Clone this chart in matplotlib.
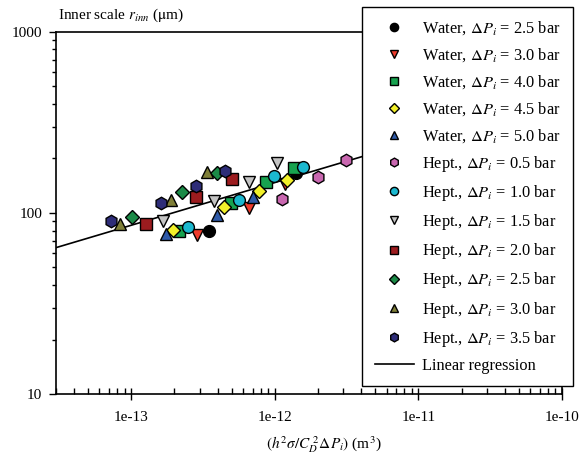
import numpy as np
import matplotlib
matplotlib.use('Agg')
import matplotlib.pyplot as plt
from matplotlib import rcParams

rcParams['font.family'] = 'serif'
rcParams['font.serif'] = ['Liberation Serif', 'DejaVu Serif']
rcParams['mathtext.fontset'] = 'stix'
rcParams['font.size'] = 11

# series: x values in m^3, r_inn in um
water25_x = [3.50e-13, 1.41e-12]
water25_y = [79.8, 165.6]
water30_x = [2.89e-13, 6.59e-13, 1.17e-12]
water30_y = [75.5, 107.0, 144.6]
water40_x = [2.16e-13, 4.97e-13, 8.71e-13, 1.36e-12]
water40_y = [79.6, 113.1, 148.3, 176.6]
water45_x = [1.96e-13, 4.41e-13, 7.82e-13, 1.21e-12]
water45_y = [80.5, 108.4, 131.5, 152.0]
water50_x = [1.75e-13, 3.93e-13, 7.01e-13]
water50_y = [76.6, 97.1, 122.2]
hept05_x = [1.12e-12, 2.00e-12, 3.11e-12]
hept05_y = [119.4, 157.4, 196.4]
hept10_x = [2.50e-13, 5.68e-13, 9.95e-13, 1.57e-12]
hept10_y = [84.0, 118.0, 159.2, 180.4]
hept15_x = [1.67e-13, 3.75e-13, 6.59e-13, 1.03e-12]
hept15_y = [90.3, 116.4, 147.4, 189.7]
hept20_x = [1.27e-13, 2.83e-13, 5.01e-13]
hept20_y = [86.6, 123.0, 154.2]
hept25_x = [1.01e-13, 2.26e-13, 3.96e-13]
hept25_y = [94.6, 130.0, 165.6]
hept30_x = [8.38e-14, 1.89e-13, 3.37e-13]
hept30_y = [86.6, 118.0, 167.9]
hept35_x = [7.21e-14, 1.61e-13, 2.83e-13, 4.51e-13]
hept35_y = [90.3, 114.0, 141.0, 170.6]

# regression r = a * x^b
reg_a = 1.0e5
reg_b = 0.236

D = r'$\mathit{\Delta P_i}$'
series = [
    ('Water, ' + D + ' = 2.5 bar', 'o', '#000000', 8.5, water25_x, water25_y),
    ('Water, ' + D + ' = 3.0 bar', 'v', '#ee3b2c', 9, water30_x, water30_y),
    ('Water, ' + D + ' = 4.0 bar', 's', '#17a24f', 8, water40_x, water40_y),
    ('Water, ' + D + ' = 4.5 bar', 'D', '#f2f02a', 7.5, water45_x, water45_y),
    ('Water, ' + D + ' = 5.0 bar', '^', '#2f5aa8', 9, water50_x, water50_y),
    ('Hept., ' + D + ' = 0.5 bar', 'h', '#c967b0', 9, hept05_x, hept05_y),
    ('Hept., ' + D + ' = 1.0 bar', 'o', '#1bb8cf', 8.5, hept10_x, hept10_y),
    ('Hept., ' + D + ' = 1.5 bar', 'v', '#c4c4c4', 9, hept15_x, hept15_y),
    ('Hept., ' + D + ' = 2.0 bar', 's', '#9c1c1f', 8, hept20_x, hept20_y),
    ('Hept., ' + D + ' = 2.5 bar', 'D', '#1b8a47', 7.5, hept25_x, hept25_y),
    ('Hept., ' + D + ' = 3.0 bar', '^', '#7f7f38', 9, hept30_x, hept30_y),
    ('Hept., ' + D + ' = 3.5 bar', 'h', '#2e2d78', 9, hept35_x, hept35_y),
]

fig = plt.figure(figsize=(5.8, 4.63), dpi=100)
ax = fig.add_axes([0.0966, 0.149, 0.8724, 0.782])

xmin, xmax = 3e-14, 1e-10
for lab, mk, col, ms, xs, ys in series:
    ax.plot(xs, ys, linestyle='none', marker=mk, markersize=ms,
            markerfacecolor=col, markeredgecolor='black',
            markeredgewidth=1.0, label=lab, zorder=3)

xr = np.logspace(np.log10(xmin), np.log10(xmax), 50)
ax.plot(xr, reg_a * xr ** reg_b, color='black', lw=1.2,
        label='Linear regression', zorder=2)

ax.set_xscale('log')
ax.set_yscale('log')
ax.set_xlim(xmin, xmax)
ax.set_ylim(10, 1000)

ax.set_xticks([1e-13, 1e-12, 1e-11, 1e-10])
ax.set_xticklabels(['1e-13', '1e-12', '1e-11', '1e-10'])
ax.set_yticks([10, 100, 1000])
ax.set_yticklabels(['10', '100', '1000'])
ax.tick_params(axis='x', which='major', direction='inout', length=8, width=1, pad=8)
ax.tick_params(axis='x', which='minor', direction='in', length=4, width=1)
ax.tick_params(axis='y', which='major', direction='out', length=5, width=1, pad=5)
ax.tick_params(axis='y', which='minor', direction='out', length=3, width=1)
ax.tick_params(labelsize=11)
ax.yaxis.set_minor_formatter(matplotlib.ticker.NullFormatter())
ax.xaxis.set_minor_formatter(matplotlib.ticker.NullFormatter())
for s in ax.spines.values():
    s.set_linewidth(1.2)

ax.set_xlabel(r'$(h^2\sigma/C_D^{\ 2}\mathit{\Delta}P_i)$ (m$^3$)', labelpad=10)
ax.xaxis.set_label_coords(0.53, -0.112)
fig.text(58 / 580, 1 - 15 / 463, r'Inner scale $r_{inn}$ ($\mathrm{\mu}$m)',
         ha='left', va='center', fontsize=11)

leg = ax.legend(loc='upper right', bbox_to_anchor=(573 / 580, 1 - 7 / 463),
                bbox_transform=fig.transFigure, borderaxespad=0,
                fontsize=11.8, markerscale=0.7, labelspacing=0.56,
                handlelength=2.4, handletextpad=0.5, borderpad=0.75,
                fancybox=False, framealpha=1, edgecolor='black')
leg.get_frame().set_linewidth(1.0)
leg.set_zorder(5)

fig.savefig('out.png', dpi=100)
